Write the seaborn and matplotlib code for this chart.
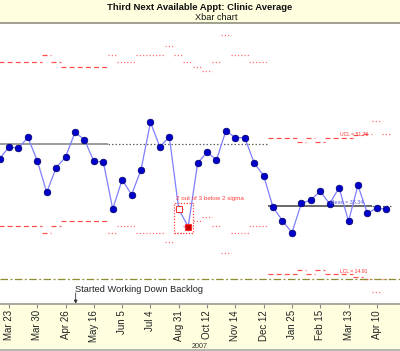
import numpy as np
import pandas as pd
import matplotlib
matplotlib.use("Agg")
import matplotlib.pyplot as plt
from matplotlib.patches import Rectangle
from matplotlib.lines import Line2D
import seaborn as sns

# ---------------- data ----------------
title = "Third Next Available Appt: Clinic Average"
subtitle = "Xbar chart"
year_label = "2007"
annotation_text = "Started Working Down Backlog"
rule_text = "2 out of 3 below 2 sigma"
mean_label = "Mean = 33.34"
ucl_label = "UCL = 51.76"
lcl_label = "LCL = 14.91"

tick_labels = ["Mar 23", "Mar 30", "Apr 26", "May 16", "Jun 5", "Jul 4", "Aug 31",
               "Oct 12", "Nov 14", "Dec 12", "Jan 25", "Feb 15", "Mar 13", "Apr 10"]
tick_index = [1, 4, 7, 10, 13, 16, 19, 22, 25, 28, 31, 34, 37, 40]

values = [46.15, 49.48, 49.05, 52.03, 45.69, 37.13, 43.79, 46.69, 53.38, 51.38,
          45.53, 45.34, 32.61, 40.54, 36.48, 43.25, 56.09, 49.40, 52.19, 32.53,
          27.81, 44.99, 48.05, 45.88, 53.82, 51.92, 51.92, 45.07, 41.63, 33.07,
          29.44, 26.19, 34.15, 35.05, 37.40, 34.04, 38.38, 29.28, 39.03, 31.44,
          32.88, 32.53]

center = [50.21] * 29 + [33.34] * 13

ucl = [72.42, 72.42, 72.42, 72.42, 72.42, 74.32, 72.42, 71.07, 71.07, 71.07,
       71.07, 71.07, 74.32, 72.42, 72.42, 74.32, 74.32, 74.32, 76.76, 74.32,
       72.42, 71.07, 69.99, 72.42, 79.74, 74.32, 74.32, 72.42, 72.42, 51.76,
       51.76, 51.76, 50.67, 51.76, 50.67, 51.76, 51.76, 51.76, 52.60, 52.92,
       56.44, 52.92]

lcl = [28.00, 28.00, 28.00, 28.00, 28.00, 26.10, 28.00, 29.35, 29.35, 29.35,
       29.35, 29.35, 26.10, 28.00, 28.00, 26.10, 26.10, 26.10, 23.66, 26.10,
       28.00, 29.35, 30.43, 28.00, 20.68, 26.10, 26.10, 28.00, 28.00, 14.92,
       14.92, 14.92, 16.01, 14.92, 16.01, 14.92, 14.92, 14.92, 14.08, 13.76,
       10.24, 13.76]

# segment style per point: "base" = computed period, "ext" = extended limits
phase = (["base"] * 12 + ["ext"] * 17 + ["base"] * 11 + ["ext"] * 2)
phase_id = [0] * 12 + [1] * 17 + [2] * 11 + [3] * 2

goal_value = 13.57
flag_open = [19]
flag_filled = [20]
annotation_index = 8.07
annotation_y = 10.86

df = pd.DataFrame({"idx": np.arange(len(values)), "value": values,
                   "center": center, "ucl": ucl, "lcl": lcl,
                   "phase": phase, "pid": phase_id})

# ---------------- style ----------------
sns.set_style("white")
plt.rcParams["font.family"] = ["Liberation Sans", "DejaVu Sans"]

W, H = 400, 351
fig = plt.figure(figsize=(W / 100, H / 100), dpi=100)
band = "#FFFFE0"

# header & footer bands
fig.patches.append(Rectangle((0, 1 - 22 / H), 1, 22 / H, transform=fig.transFigure,
                             facecolor=band, edgecolor="none", zorder=-5))
fig.patches.append(Rectangle((0, 2 / H), 1, 45 / H, transform=fig.transFigure,
                             facecolor=band, edgecolor="none", zorder=-5))
fig.add_artist(Line2D([0, 1], [1 - 22.8 / H] * 2, transform=fig.transFigure,
                      color="#A0A090", lw=1.4))
fig.add_artist(Line2D([0, 1], [47 / H] * 2, transform=fig.transFigure,
                      color="#A8A8A0", lw=1.4, zorder=3))
fig.add_artist(Line2D([0, 1], [1.5 / H] * 2, transform=fig.transFigure,
                      color="#A8A8A0", lw=1.2))

fig.text(0.5, 1 - 7.5 / H, title, ha="center", va="center", fontsize=6.8,
         weight="bold", color="#111111")
fig.text(216 / W, 1 - 17 / H, subtitle, ha="center", va="center", fontsize=6.6,
         color="#111111")
fig.text(200 / W, 5 / H, year_label, ha="center", va="center", fontsize=5.2,
         color="#333333")

ax = fig.add_axes([0, 47 / H, 1, 281 / H])
ax.set_facecolor("white")
for s in ax.spines.values():
    s.set_visible(False)

# ---------------- limits & center lines ----------------
def runs(col):
    out = []
    start = 0
    for i in range(1, len(df) + 1):
        if i == len(df) or df[col][i] != df[col][start] or df["pid"][i] != df["pid"][start]:
            out.append((start, i - 1, df[col][start], df["phase"][start]))
            start = i
    return out

for col in ["ucl", "lcl"]:
    for a, b, v, ph in runs(col):
        if ph == "base":
            ax.hlines(v, a - 0.5, b + 0.5, colors="#FF5050", lw=0.9,
                      linestyles=(0, (4, 2.5)), zorder=2)
        else:
            ax.hlines(v, a - 0.5, b + 0.5, colors="#FF7070", lw=0.9,
                      linestyles=(0, (1, 1.6)), zorder=2)

for a, b, v, ph in runs("center"):
    pid = df["pid"][a]
    if pid == 0:
        ax.hlines(v, a - 0.5, b + 0.5, colors="#8A8A8A", lw=1.2, zorder=2)
    elif pid == 2:
        ax.hlines(v, a - 0.5, b + 0.5, colors="#505050", lw=1.2, zorder=2)
    else:
        ax.hlines(v, a - 0.5, b + 0.5, colors="#606060", lw=0.9,
                  linestyles=(0, (1.2, 1.6)), zorder=2)

ax.axhline(goal_value, color="#8C8C30", lw=0.9, ls=(0, (6, 2, 1.5, 2)), zorder=2)

# ---------------- data line ----------------
sns.lineplot(data=df, x="idx", y="value", ax=ax, color="#7F7FFF", lw=0.9,
             marker="o", markersize=4.8, markerfacecolor="#0000CC",
             markeredgecolor="#000066", markeredgewidth=0.5, zorder=4)

fo = df.loc[flag_open]
ff = df.loc[flag_filled]
ax.plot(fo["idx"], fo["value"], ls="none", marker="s", markersize=4,
        markerfacecolor="white", markeredgecolor="#FF3030", markeredgewidth=0.7, zorder=5)
ax.plot(ff["idx"], ff["value"], ls="none", marker="s", markersize=4,
        markerfacecolor="#CC0000", markeredgecolor="#FF3030", markeredgewidth=0.7, zorder=5)

flag_all = pd.concat([fo, ff])
bx0 = flag_all["idx"].min() - 0.55
bx1 = flag_all["idx"].max() + 0.5
by0 = flag_all["value"].min() - 1.8
by1 = flag_all["value"].max() + 1.6
ax.add_patch(Rectangle((bx0, by0), bx1 - bx0, by1 - by0, fill=False,
                       edgecolor="#FF4040", lw=0.9, ls=(0, (1, 1.3)), zorder=3))
ax.text(bx0 + 0.25, by1 + 1.3, rule_text, fontsize=4.5, color="#FF4040",
        ha="left", va="center", zorder=6)

# labels on lines
ax.text(35.0, 34.3, mean_label, fontsize=3.9, color="#5A5ADD", ha="left", va="center", zorder=6)
ax.text(36.1, 52.7, ucl_label, fontsize=3.7, color="#FF3030", ha="left", va="center", zorder=6)
ax.text(36.1, 15.8, lcl_label, fontsize=3.7, color="#FF3030", ha="left", va="center", zorder=6)

# annotation
ax.text(annotation_index - 0.07, annotation_y, annotation_text, fontsize=6.7,
        color="#222222", ha="left", va="center")
ax.annotate("", xy=(annotation_index, 6.95), xytext=(annotation_index, 9.9),
            arrowprops=dict(arrowstyle="-|>", color="#333333", lw=0.6,
                            mutation_scale=5, shrinkA=0, shrinkB=0),
            annotation_clip=False)

# ---------------- axes ----------------
ax.set_xlim(0.046, 42.46)
ax.set_ylim(6.88, 82.99)
ax.set_yticks([])
ax.set_xticks(tick_index)
ax.set_xticklabels(tick_labels, rotation=90, fontsize=7.0, color="#222222")
ax.tick_params(axis="x", bottom=True, labelbottom=True, length=3, width=0.8,
               color="#888888", pad=1.5, direction="out")
ax.set_xlabel("")
ax.set_ylabel("")

fig.savefig("out.png", dpi=100)
